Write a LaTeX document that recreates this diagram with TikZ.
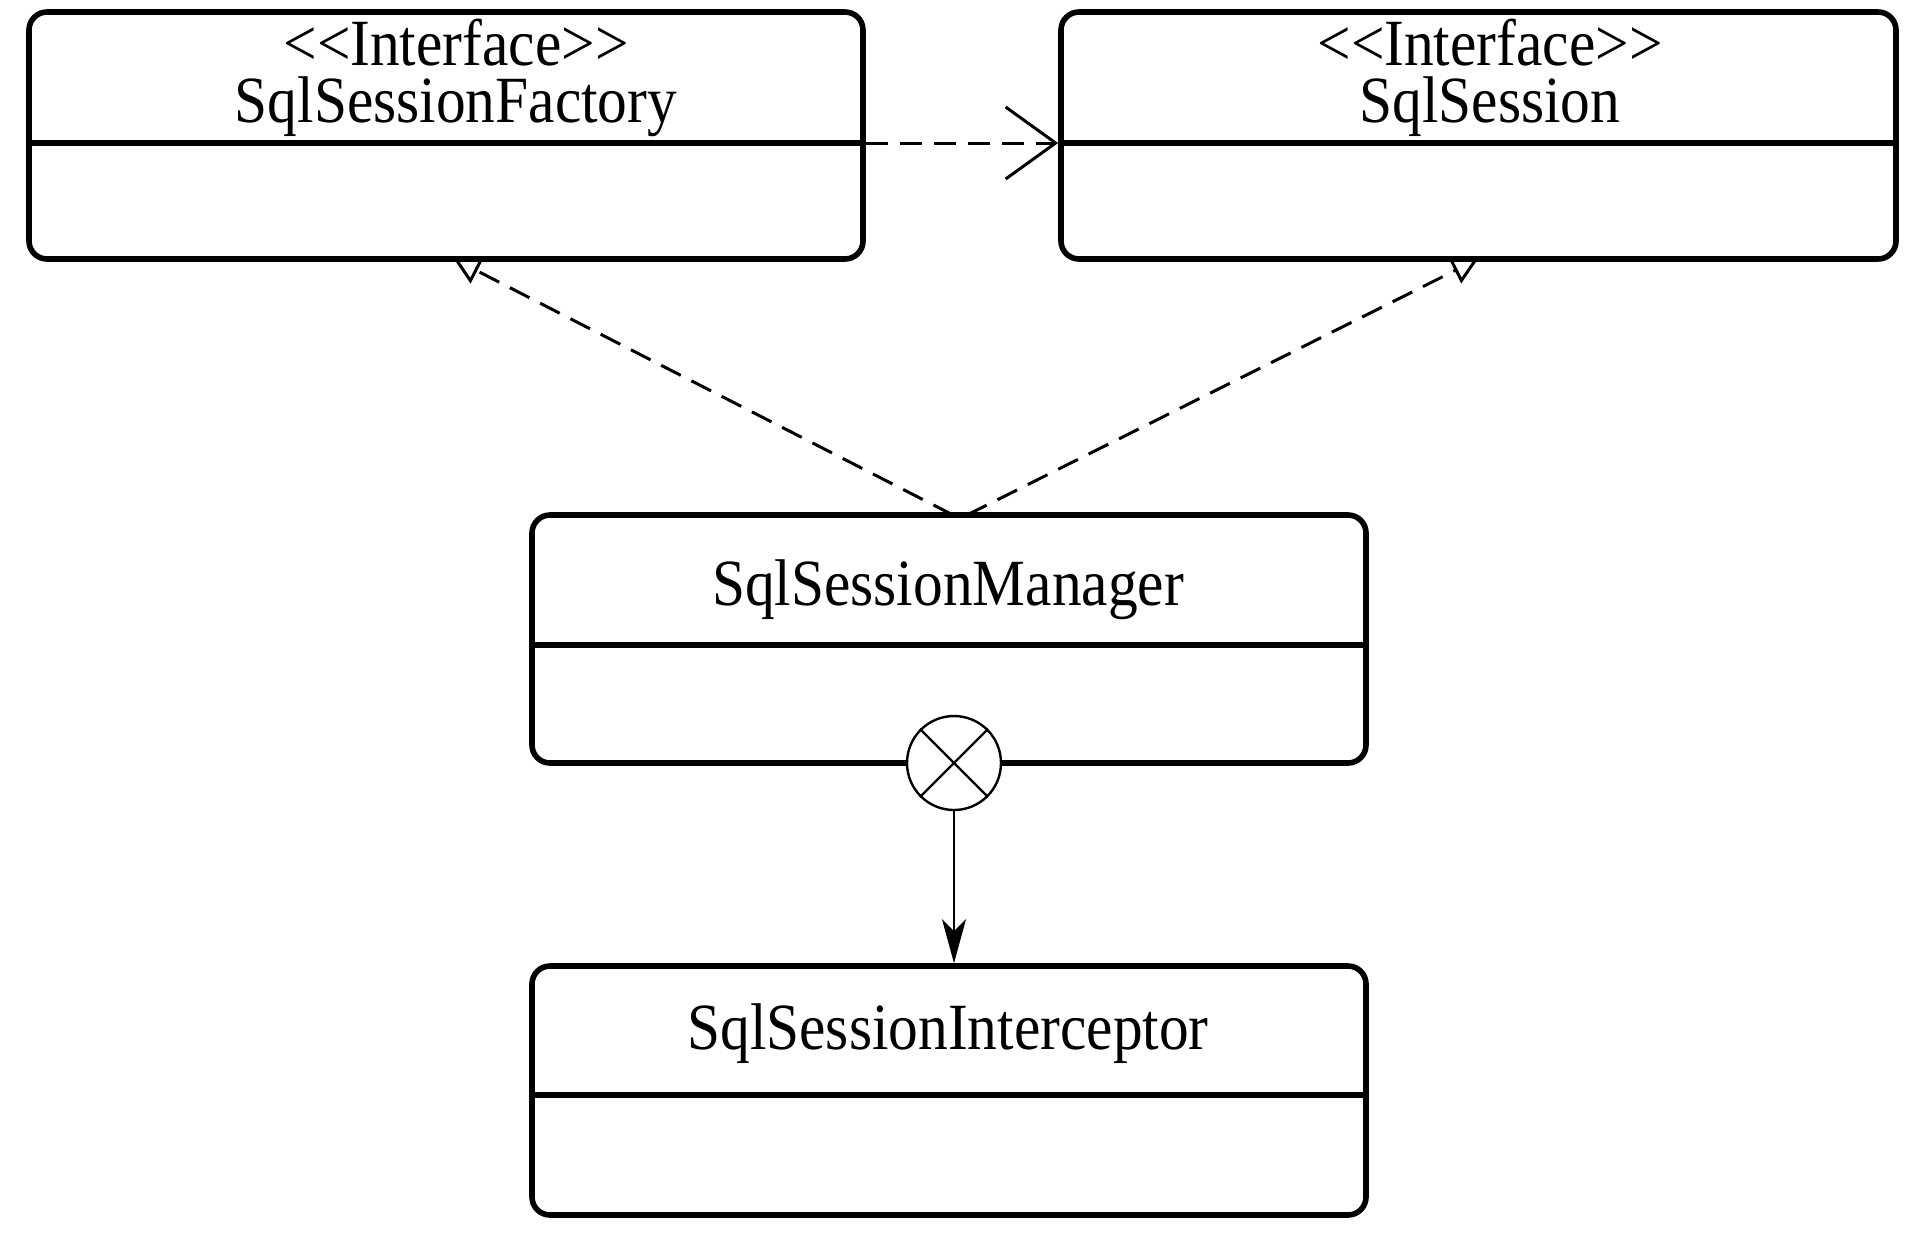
\documentclass[tikz,border=0pt]{standalone}
\usepackage{fontspec}
\setmainfont{Liberation Serif}[FakeStretch=0.9, Ligatures=ResetAll]
\usetikzlibrary{arrows.meta}
\newcommand\twolines[2]{\vbox{\lineskiplimit=-100pt\baselineskip=28.5pt\halign{\hfil##\hfil\cr#1\cr#2\cr}}}
\begin{document}
\begin{tikzpicture}[x=0.5pt,y=-0.5pt,
  umlbox/.style={draw, line width=2.8pt, rounded corners=9pt, inner sep=0pt},
  divider/.style={line width=2.8pt},
  lbl/.style={anchor=base, inner sep=0pt, font=\fontsize{33}{33}\selectfont},
  dashline/.style={line width=1.5pt, dash pattern=on 11pt off 6pt},
  dep/.style={dashline, -{Straight Barb[length=25pt, width=36pt, line width=1.5pt]}},
  real/.style={dashline, -{Triangle[open, length=13pt, width=14pt, line width=1.5pt]}},
  comparrow/.style={line width=1.1pt, -{Stealth[length=22pt, width=12pt, inset=6pt]}},
  compcirc/.style={circle, draw, fill=white, line width=1.2pt, minimum size=47pt, inner sep=0pt}
]
\useasboundingbox (0,0) rectangle (1912,1238);

% boxes
\node[umlbox, minimum width=417pt, minimum height=123.5pt] (fac) at (446,135.5) {};
\node[umlbox, minimum width=417.5pt, minimum height=123.5pt] (ses) at (1478.5,135.5) {};
\node[umlbox, minimum width=417pt, minimum height=124pt] (mgr) at (949,639) {};
\node[umlbox, minimum width=417pt, minimum height=124.5pt] (int) at (949,1090.5) {};

% dividers
\coordinate (facdiv) at (0,143);
\coordinate (mgrdiv) at (0,645);
\coordinate (intdiv) at (0,1095);
\draw[divider] (fac.west |- facdiv) -- (fac.east |- facdiv);
\draw[divider] (ses.west |- facdiv) -- (ses.east |- facdiv);
\draw[divider] (mgr.west |- mgrdiv) -- (mgr.east |- mgrdiv);
\draw[divider] (int.west |- intdiv) -- (int.east |- intdiv);

% labels
\node[lbl] (facname) at (456,122) {\twolines{<\kern0pt<Interface>\kern0pt>}{SqlSessionFactory}};
\node[lbl] (sesname) at (1490,122) {\twolines{<\kern0pt<Interface>\kern0pt>}{SqlSession}};
\node[lbl] (mgrname) at (948,605) {SqlSessionManager};
\node[lbl] (intname) at (948,1049) {SqlSessionInterceptor};

% connectors
\draw[dep] (fac.east |- facdiv) -- (ses.west |- facdiv);
\coordinate (mtopl) at (953,515);
\coordinate (mtopr) at (967,515);
\coordinate (factip) at (454,259);
\coordinate (sestip) at (1478,259);
\draw[real] (mtopl) -- (factip);
\draw[real] (mtopr) -- (sestip);

% composition
\node[compcirc] (comp) at (954,763) {};
\draw[line width=1.2pt] (comp.north west) -- (comp.south east);
\draw[line width=1.2pt] (comp.north east) -- (comp.south west);
\draw[comparrow] (comp.south) -- (comp.south |- int.north);
\end{tikzpicture}
\end{document}
